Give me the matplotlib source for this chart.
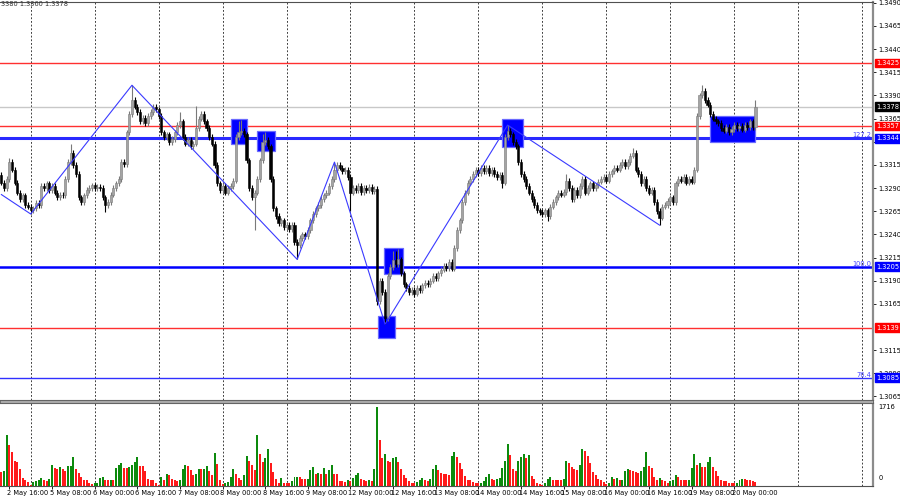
import numpy as np
import matplotlib
matplotlib.use('Agg')
import matplotlib.pyplot as plt
from matplotlib.patches import Rectangle

# hourly bars, 2 May 13:00 .. 20 May 08:00, prices in pips above 1.3000
BASE = 1.3
first_open_pips = 304
close_pips = [
    296, 290, 300, 318, 310, 296, 285, 278, 282, 272, 270, 266, 268, 274, 272, 292,
    290, 295, 288, 292, 285, 280, 283, 282, 300, 318, 328, 315, 305, 280, 275, 282,
    288, 290, 293, 290, 291, 290, 280, 272, 275, 283, 290, 295, 300, 318, 316, 350,
    370, 385, 378, 372, 362, 366, 360, 368, 372, 378, 375, 368, 350, 345, 348, 340,
    343, 350, 358, 362, 345, 338, 342, 335, 338, 355, 365, 370, 362, 355, 345, 338,
    315, 295, 288, 292, 285, 290, 292, 298, 345, 350, 352, 348, 320, 290, 280, 285,
    300, 320, 340, 342, 335, 300, 268, 260, 252, 255, 248, 250, 246, 250, 232, 228,
    236, 240, 238, 245, 255, 262, 268, 272, 278, 282, 285, 292, 300, 310, 315, 312,
    308, 310, 302, 285, 290, 288, 292, 286, 290, 288, 291, 287, 289, 168, 190, 178,
    150, 195, 205, 212, 208, 213, 198, 186, 182, 178, 180, 176, 182, 180, 185, 188,
    186, 190, 195, 193, 198, 202, 206, 204, 210, 203, 225, 245, 255, 275, 285, 296,
    300, 305, 310, 306, 312, 308, 312, 306, 310, 305, 302, 304, 296, 345, 352, 348,
    340, 335, 318, 305, 300, 292, 285, 278, 272, 266, 264, 262, 266, 260, 270, 275,
    280, 285, 283, 286, 298, 290, 278, 288, 282, 292, 300, 285, 290, 295, 290, 293,
    297, 300, 302, 298, 305, 308, 312, 310, 315, 318, 314, 318, 325, 328, 310, 305,
    295, 300, 290, 285, 288, 275, 265, 258, 270, 272, 276, 280, 275, 295, 300, 298,
    302, 296, 300, 297, 310, 368, 390, 395, 385, 380, 370, 365, 362, 360, 355, 352,
    356, 350, 354, 358, 355, 357, 353, 358, 356, 362, 356, 378,
]
wick_pips = 3
high_pips = {3: 322, 26: 338, 49: 401, 67: 372, 73: 379, 89: 362, 90: 364, 98: 348,
             99: 350, 125: 318, 147: 222, 148: 222, 149: 224, 190: 358, 212: 305,
             237: 333, 263: 401, 283: 385}
low_pips = {11: 262, 39: 264, 95: 245, 111: 213, 131: 265, 141: 164, 144: 143,
            155: 172, 188: 290, 205: 254, 247: 250}

volumes = [
    300, 320, 1110, 890, 745, 540, 530, 380, 175, 125, 88, 30, 88, 100, 125, 175,
    125, 100, 160, 450, 395, 380, 415, 365, 320, 440, 445, 620, 380, 290, 200, 125,
    120, 73, 50, 73, 75, 175, 200, 125, 120, 125, 120, 395, 450, 500, 395, 390,
    415, 467, 525, 620, 430, 425, 320, 146, 125, 120, 73, 30, 200, 131, 255, 234,
    160, 140, 110, 140, 365, 460, 445, 343, 234, 250, 365, 360, 380, 430, 320, 234,
    710, 475, 125, 51, 73, 88, 200, 380, 255, 175, 124, 234, 650, 540, 467, 343,
    1110, 686, 525, 613, 796, 500, 307, 146, 73, 175, 73, 70, 65, 100, 200, 205,
    195, 160, 146, 160, 343, 415, 270, 277, 263, 395, 270, 343, 467, 270, 250, 100,
    98, 88, 125, 100, 175, 234, 290, 146, 125, 100, 125, 100, 365, 1716, 1000, 600,
    686, 540, 525, 600, 635, 525, 380, 234, 175, 100, 73, 60, 88, 125, 175, 125,
    100, 146, 365, 467, 343, 290, 270, 250, 234, 657, 730, 620, 490, 380, 220, 140,
    125, 88, 70, 60, 73, 100, 200, 250, 146, 125, 146, 175, 395, 540, 905, 670,
    380, 320, 540, 635, 686, 600, 670, 212, 160, 73, 51, 30, 73, 160, 200, 125,
    124, 123, 122, 160, 540, 500, 415, 380, 343, 450, 796, 760, 657, 490, 307, 234,
    160, 125, 88, 51, 66, 200, 160, 165, 125, 140, 320, 365, 350, 336, 314, 290,
    320, 415, 730, 430, 395, 200, 125, 175, 125, 100, 73, 100, 140, 234, 200, 140,
    125, 120, 125, 395, 686, 467, 510, 415, 410, 525, 628, 415, 320, 220, 125, 100,
    98, 73, 70, 66, 73, 130, 160, 146, 140, 125, 100, 88,
]

zz_idx = [0, 11, 49, 111, 125, 144, 190, 247]
zz_pips = [283, 262, 401, 213, 318, 143, 358, 250]

level_prices = [1.3425, 1.3378, 1.3357, 1.3344, 1.3205, 1.3139, 1.3085]
level_colors = ['#ff3030', '#c8c8c8', '#ff3030', '#2a2aff', '#0000ff', '#ff3030', '#3030ff']
level_widths = [1.0, 1.0, 1.0, 2.2, 1.8, 1.0, 1.0]
tag_colors = ['#ff0000', '#000000', '#ff0000', '#0000ff', '#0000ff', '#ff0000', '#0000ff']
fib_prices = [1.3344, 1.3205, 1.3085]
fib_labels = ['127.2', '100.0', '76.4']

# annotation boxes: first bar, last bar, low, high
boxes = [(86, 92, 1.3338, 1.3365), (96, 102.7, 1.3330, 1.3352),
         (143.6, 150.7, 1.3197, 1.3225), (141.2, 147.7, 1.3128, 1.3152),
         (188, 195.7, 1.3334, 1.3365), (266, 282.8, 1.3340, 1.3368)]

price_ticks = [1.3065, 1.3090, 1.3115, 1.3165, 1.3190, 1.3215, 1.3240, 1.3265, 1.3290,
               1.3315, 1.3340, 1.3365, 1.3390, 1.3415, 1.3440, 1.3465, 1.3490]

day_idx = [11, 35, 59, 83, 107, 131, 155, 179, 203, 227, 251, 275, 299, 323]
date_idx = [3, 19, 35, 51, 67, 83, 99, 115, 131, 147, 163, 179, 195, 211, 227, 243, 259, 275]
date_labels = ['2 May 16:00', '5 May 08:00', '6 May 00:00', '6 May 16:00', '7 May 08:00',
               '8 May 00:00', '8 May 16:00', '9 May 08:00', '12 May 00:00', '12 May 16:00',
               '13 May 08:00', '14 May 00:00', '14 May 16:00', '15 May 08:00',
               '16 May 00:00', '16 May 16:00', '19 May 08:00', '20 May 00:00']

plt.rcParams['font.family'] = ['DejaVu Sans']
FS = 4.8

closes = BASE + np.array(close_pips) / 10000
opens = np.concatenate([[BASE + first_open_pips / 10000], closes[:-1]])
n = len(closes)
idx = np.arange(n)
highs = np.maximum(opens, closes) + wick_pips / 10000
lows = np.minimum(opens, closes) - wick_pips / 10000
for k, v in high_pips.items():
    highs[k] = BASE + v / 10000
for k, v in low_pips.items():
    lows[k] = BASE + v / 10000

fig = plt.figure(figsize=(9, 5), dpi=100)
W = 873 / 900
ax = fig.add_axes([0, 0.2, W, 0.7966])
vax = fig.add_axes([0, 14 / 500, W, 83 / 500])
xmin, xmax = -0.52, 327.1

# levels
for p, c, lw in zip(level_prices, level_colors, level_widths):
    ax.axhline(p, color=c, lw=lw, zorder=1)

for a in (ax, vax):
    for d in day_idx:
        a.axvline(d, color='#202020', lw=0.6, ls=(0, (2.2, 2.2)), zorder=0.5)

for b0, b1, lo, hi in boxes:
    ax.add_patch(Rectangle((b0, lo), b1 - b0, hi - lo, fc='#0000ff', ec='#6a6aff',
                           lw=0.9, zorder=2))

up = closes >= opens
ccol = np.where(up, '#a4a4a4', '#000000')
ecol = np.where(up, '#7a7a7a', '#000000')
ax.vlines(idx, lows, highs, colors=ecol, lw=0.8, zorder=3)
body = np.maximum(np.abs(closes - opens), 0.00004)
ax.bar(idx, body, bottom=np.minimum(opens, closes), width=0.8, color=ccol,
       edgecolor=ecol, linewidth=0.4, zorder=3)

ax.plot(zz_idx, BASE + np.array(zz_pips) / 10000, color='#3a3aff', lw=0.8, zorder=4)

ax.set_xlim(xmin, xmax)
ax.set_ylim(1.30612, 1.34912)
ax.yaxis.tick_right()
ax.set_yticks(price_ticks)
ax.set_yticklabels(['%.4f' % t for t in price_ticks])
ax.tick_params(axis='y', direction='out', length=2.5, width=0.6, labelsize=FS, pad=1.5)
ax.set_xticks([])

ytr = ax.get_yaxis_transform()
for p, tc in zip(level_prices, tag_colors):
    ax.text(1.004, p, '%.4f' % p, transform=ytr, fontsize=FS, color='white',
            va='center', ha='left', zorder=10, clip_on=False,
            bbox=dict(boxstyle='square,pad=0.22', fc=tc, ec=tc))
for p, lab in zip(fib_prices, fib_labels):
    ax.text(0.998, p + 0.00003, lab, transform=ytr, fontsize=FS, color='#4040ff',
            va='bottom', ha='right', zorder=10)

fig.text(0.001, 0.997, '3380 1.3360 1.3378', fontsize=FS, va='top', ha='left', color='#333333')

# volumes, MT4 style colour: green when above previous bar
vol = np.array(volumes)
vup = np.concatenate([[False], vol[1:] > vol[:-1]])
vcol = np.where(vup, '#0d8a0d', '#ff1a1a')
vax.bar(idx, vol, width=0.75, color=vcol, linewidth=0, zorder=2)
vax.set_xlim(xmin, xmax)
vax.set_ylim(0, 1803)
vax.set_yticks([])
vax.set_xticks(date_idx)
vax.set_xticklabels([])
vax.tick_params(axis='x', direction='out', length=2, width=0.6)
vax.text(1.006, 1716, '1716', transform=vax.get_yaxis_transform(), fontsize=FS,
         va='center', ha='left')
vax.text(1.006, 170, '0', transform=vax.get_yaxis_transform(), fontsize=FS,
         va='center', ha='left')
for d, lab in zip(date_idx, date_labels):
    vax.text(d - 0.8, -0.045, lab, transform=vax.get_xaxis_transform(), fontsize=FS,
             va='top', ha='left', clip_on=False)

for a in (ax, vax):
    a.spines['left'].set_visible(False)
    a.spines['right'].set_color('#8c8c8c')
    a.spines['right'].set_linewidth(1.6)
    a.spines['top'].set_color('#505050')
    a.spines['bottom'].set_color('#505050')
    a.set_facecolor('white')

fig.patches.append(Rectangle((0, 1 - 403 / 500), W, 3 / 500, transform=fig.transFigure,
                             fc='#a8a8a8', ec='#606060', lw=0.6))

fig.savefig('out.png', dpi=100)
